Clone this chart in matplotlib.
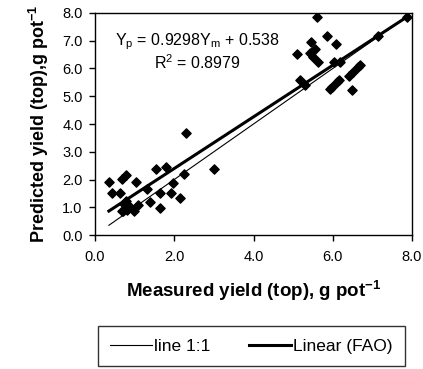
import matplotlib.pyplot as plt

plt.rcParams['font.family'] = ['Liberation Sans', 'DejaVu Sans']

# measured (x) and predicted (y) top yield, g pot-1
measured = [0.35, 0.44, 0.64, 0.68, 0.77, 1.03, 0.75, 0.68, 0.82, 0.98, 1.08,
            0.72, 0.78, 0.70, 0.88, 1.31, 1.40, 1.54, 1.78, 1.63, 1.65, 1.96,
            1.92, 2.14, 2.25, 2.29, 3.00,
            5.61, 5.86, 6.08, 5.46, 5.10, 5.42, 5.54, 5.50, 5.64, 6.04, 6.19,
            5.17, 5.31, 5.93, 6.11, 6.42, 6.50, 6.63, 6.68, 6.48, 7.13, 7.88,
            5.98, 6.15]
predicted = [1.92, 1.50, 1.50, 2.03, 2.15, 1.90, 1.16, 0.88, 0.90, 0.88, 1.08,
             1.10, 1.22, 0.85, 1.00, 1.65, 1.20, 2.38, 2.44, 1.50, 0.96, 1.89,
             1.50, 1.32, 2.20, 3.66, 2.37,
             7.87, 7.17, 6.87, 6.97, 6.51, 6.55, 6.69, 6.40, 6.22, 6.22, 6.22,
             5.59, 5.41, 5.25, 5.52, 5.73, 5.88, 6.07, 6.13, 5.23, 7.17, 7.87,
             5.35, 5.60]

slope = 0.9298
intercept = 0.538
x_ticks = [0, 2, 4, 6, 8]
y_ticks = [0, 1, 2, 3, 4, 5, 6, 7, 8]

fig = plt.figure(figsize=(4.23, 3.69), dpi=100)
ax = fig.add_axes([0.2246, 0.3631, 0.7494, 0.6017])

xmin, xmax = min(measured), max(measured)
l1, = ax.plot([xmin, xmax], [xmin, xmax], color='black', lw=0.8, label='line 1:1')
l2, = ax.plot([xmin, xmax], [slope * xmin + intercept, slope * xmax + intercept],
              color='black', lw=2.2, label='Linear (FAO)')
ax.scatter(measured, predicted, marker='D', s=22, color='black', zorder=3)

ax.set_xlim(0, 8)
ax.set_ylim(0, 8)
ax.set_xticks(x_ticks)
ax.set_yticks(y_ticks)
ax.set_xticklabels([f'{v:.1f}' for v in x_ticks])
ax.set_yticklabels([f'{v:.1f}' for v in y_ticks])
ax.tick_params(direction='out', length=4, width=1, labelsize=10.5)
ax.tick_params(axis='x', pad=7)
ax.tick_params(axis='y', pad=5)
for s in ax.spines.values():
    s.set_linewidth(1)

ax.text(0.322, 0.869, r'Y$_\mathregular{p}$ = 0.9298Y$_\mathregular{m}$ + 0.538',
        transform=ax.transAxes, ha='center', va='center', fontsize=11.5)
ax.text(0.322, 0.775, r'R$^\mathregular{2}$ = 0.8979',
        transform=ax.transAxes, ha='center', va='center', fontsize=11.5)

ax.set_xlabel(r'Measured yield (top), g pot$^\mathregular{-1}$',
              fontsize=13.5, fontweight='bold', labelpad=10)
ax.set_ylabel(r'Predicted yield (top),g pot$^\mathregular{-1}$',
              fontsize=13, fontweight='bold', labelpad=8)

leg = fig.legend(handles=[l1, l2], loc='center', ncol=2,
                 bbox_to_anchor=(0.5946, 0.0623),
                 fontsize=12.5, frameon=True, fancybox=False,
                 handlelength=2.4, handletextpad=0.15, borderpad=0.7,
                 borderaxespad=0, columnspacing=2.2)
leg.get_frame().set_edgecolor('black')
leg.get_frame().set_linewidth(1)

fig.savefig('out.png', dpi=100)
